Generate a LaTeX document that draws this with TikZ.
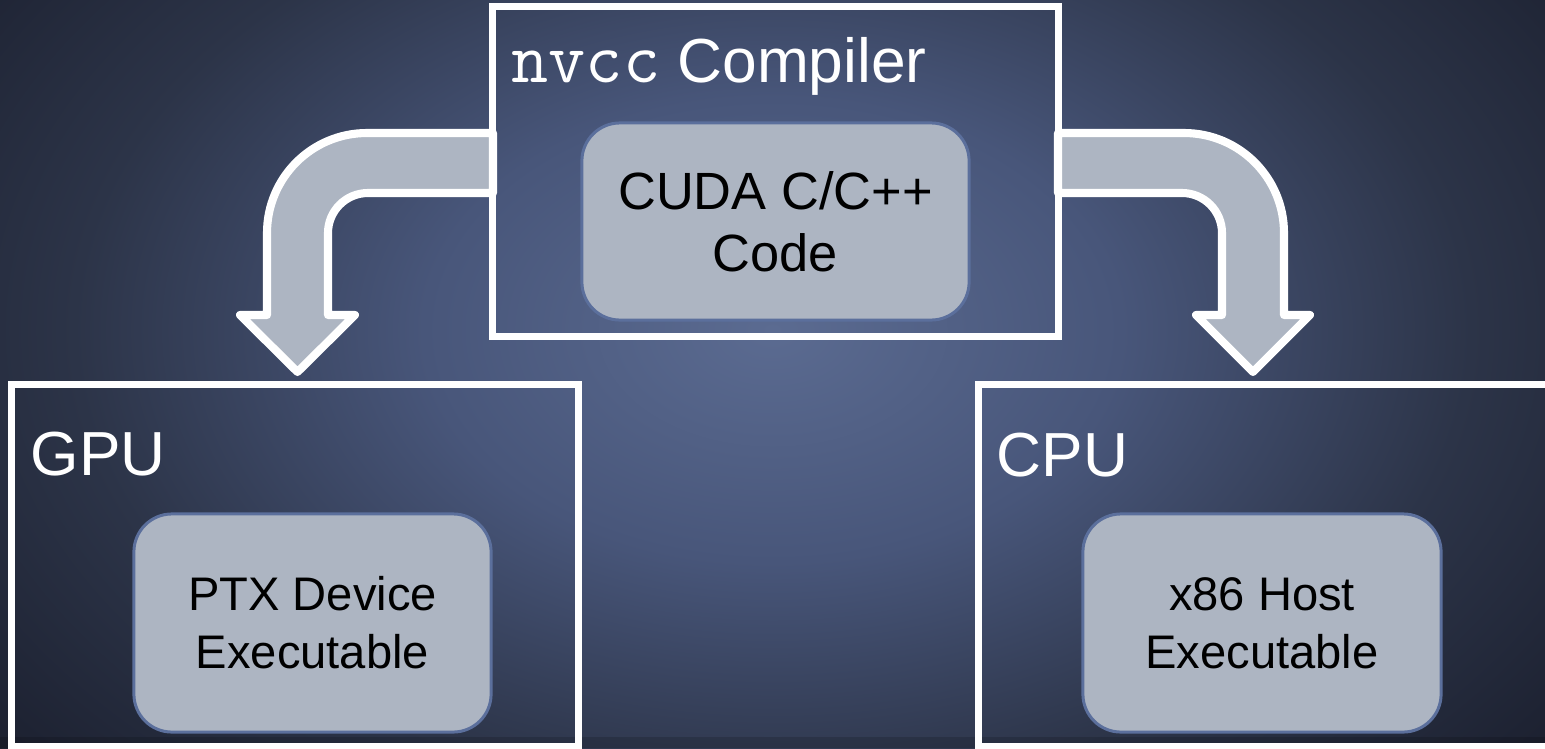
\documentclass[tikz,border=0pt]{standalone}
\usepackage{fontspec}
\setmainfont{Liberation Sans}
\definecolor{bgA}{HTML}{5B6B91}
\definecolor{bgB}{HTML}{48567A}
\definecolor{bgC}{HTML}{2C3448}
\definecolor{bgD}{HTML}{1E2333}
\definecolor{bgE}{HTML}{12151C}
\definecolor{boxfill}{HTML}{ADB5C2}
\definecolor{boxline}{HTML}{5B6F9C}
\pgfdeclareradialshading{bgshade}{\pgfpoint{0bp}{0bp}}{color(0bp)=(bgA); color(10bp)=(bgB); color(20bp)=(bgC); color(27.5bp)=(bgD); color(35.5bp)=(bgE); color(50bp)=(bgE)}
\begin{document}
\begin{tikzpicture}[x=0.01cm,y=-0.01cm,
  frame/.style={draw=white, line width=2pt, rectangle, inner sep=0pt},
  inbox/.style={draw=boxline, fill=boxfill, line width=0.85pt, rounded corners=0.38cm, inner sep=0pt, align=center, text=black},
  title/.style={anchor=base west, inner sep=0pt, text=white, font=\fontsize{17.7}{20}\selectfont},
  blockarrow/.style={draw=white, fill=boxfill, line width=2.3pt, line join=round}]
\useasboundingbox (0,0) rectangle (1545,748);
\begin{scope}
\clip (0,0) rectangle (1545,748);
\shade[shading=bgshade] (-100,-250) rectangle (1645,910);
\fill[black, opacity=0.15] (0,737) rectangle (1545,748);
\end{scope}
% block arrows
\filldraw[blockarrow] (493,133) -- (367,133) arc[start angle=-90, end angle=-180, radius=100] -- (267,315) -- (240,315) -- (297.5,372) -- (355,315) -- (328,315) -- (328,233) arc[start angle=180, end angle=270, radius=40] -- (493,193) -- cycle;
\filldraw[blockarrow] (1058,133) -- (1184,133) arc[start angle=-90, end angle=0, radius=100] -- (1284,315) -- (1310,315) -- (1253,372) -- (1196,315) -- (1222,315) -- (1222,233) arc[start angle=0, end angle=-90, radius=40] -- (1058,193) -- cycle;
% frames
\node[frame, minimum width=5.655cm, minimum height=3.29cm] (comp) at (775.75,171.5) {};
\node[frame, minimum width=5.66cm, minimum height=3.61cm] (gpu) at (295,565.5) {};
\node[frame, minimum width=5.69cm, minimum height=3.61cm] (cpu) at (1263.5,565.5) {};
% titles
\node[title] (comptitle) at (511,82) {{\ttfamily\fontsize{20.5}{20}\selectfont nvcc} Compiler};
\node[title] (gputitle) at (30,475) {GPU};
\node[title] (cputitle) at (996,476) {CPU};
% inner boxes
\node[inbox, minimum width=3.87cm, minimum height=1.97cm, font=\fontsize{14.9}{17.6}\selectfont] (cuda) at (775.5,221.5) {CUDA C/C++\\Code};
\node[inbox, minimum width=3.57cm, minimum height=2.18cm, font=\fontsize{13.4}{16.5}\selectfont] (ptx) at (312.5,623) {PTX Device\\Executable};
\node[inbox, minimum width=3.58cm, minimum height=2.18cm, font=\fontsize{13.4}{16.5}\selectfont] (x86) at (1262,623) {x86 Host\\Executable};
\end{tikzpicture}
\end{document}
